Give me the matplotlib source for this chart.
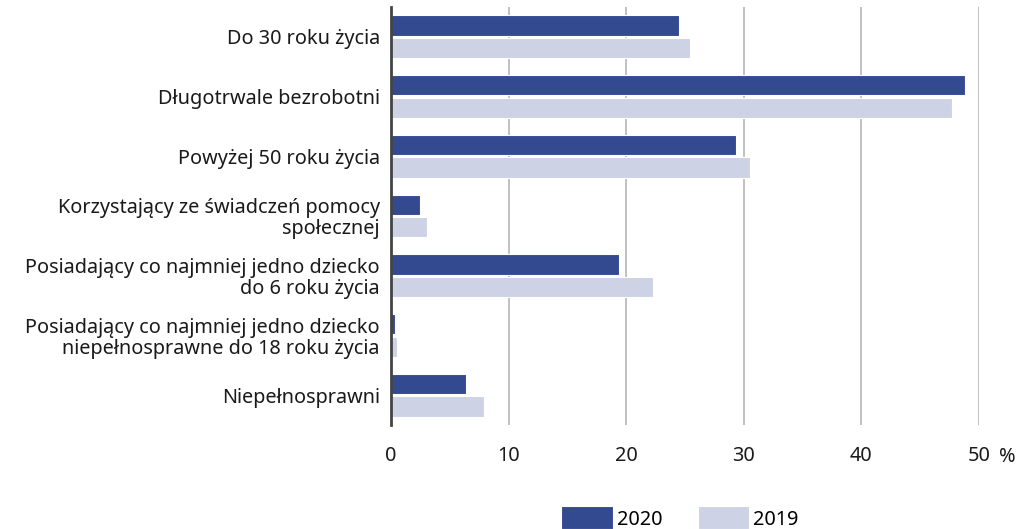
import matplotlib
matplotlib.use("Agg")
import matplotlib.pyplot as plt
import numpy as np

plt.rcParams["font.family"] = ["Noto Sans", "DejaVu Sans"]

categories = [
    "Do 30 roku życia",
    "Długotrwale bezrobotni",
    "Powyżej 50 roku życia",
    "Korzystający ze świadczeń pomocy\nspołecznej",
    "Posiadający co najmniej jedno dziecko\ndo 6 roku życia",
    "Posiadający co najmniej jedno dziecko\nniepełnosprawne do 18 roku życia",
    "Niepełnosprawni",
]
values_2020 = [24.5, 48.8, 29.3, 2.5, 19.4, 0.35, 6.4]
values_2019 = [25.4, 47.7, 30.5, 3.1, 22.3, 0.5, 7.9]
xticks = [0, 10, 20, 30, 40, 50]

DARK = "#334a91"
LIGHT = "#cdd2e5"
FS = 14.3

fig = plt.figure(figsize=(10.19, 5.29), dpi=100)
ax = fig.add_axes([391 / 1019, 1 - 425 / 529, (979 - 391) / 1019, (425 - 7) / 529])

y = np.arange(len(categories))
h = 0.34
ax.barh(y - 0.19, values_2020, height=h, color=DARK, edgecolor="white",
        linewidth=0.8, label="2020", zorder=3)
ax.barh(y + 0.19, values_2019, height=h, color=LIGHT, edgecolor="white",
        linewidth=0.8, label="2019", zorder=3)

ax.set_ylim(len(categories) - 0.5, -0.5)
ax.set_xlim(0, 50)
ax.set_yticks(y)
ax.set_yticklabels(categories, fontsize=FS, linespacing=1.05, color="#1a1a1a")
ax.set_xticks(xticks)
ax.set_xticklabels([str(t) for t in xticks], fontsize=FS, color="#1a1a1a")
ax.tick_params(axis="both", length=0)
ax.tick_params(axis="y", pad=8)
ax.tick_params(axis="x", pad=15)

ax.grid(axis="x", color="#b5b5b5", linewidth=1.2, zorder=0)
for s in ["top", "right", "bottom"]:
    ax.spines[s].set_visible(False)
ax.spines["left"].set_color("#444444")
ax.spines["left"].set_linewidth(2)
ax.spines["left"].set_zorder(4)

# unit label sits to the right of the last tick
fig.text(1007 / 1019, 1 - 457 / 529, "%", fontsize=FS, ha="center",
         va="center", color="#1a1a1a")

fig.legend(loc="lower left", bbox_to_anchor=(553 / 1019, -0.016), ncol=2,
           frameon=False, fontsize=FS, handlelength=2.6, handleheight=1.4,
           handletextpad=0.2, columnspacing=1.8, borderaxespad=0)

fig.savefig("out.png", dpi=100)
